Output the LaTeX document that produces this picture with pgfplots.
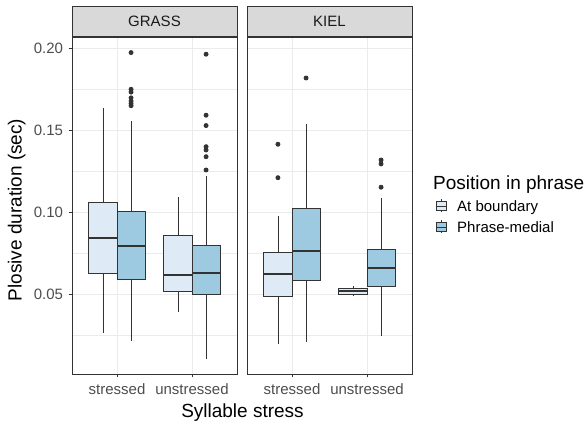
\documentclass[border=0pt]{standalone}
\usepackage{pgfplots}
\pgfplotsset{compat=1.18}
\usepgfplotslibrary{statistics}
\usepackage{fontspec}
\setmainfont{Liberation Sans}
\definecolor{gA}{HTML}{DEEBF7}
\definecolor{gB}{HTML}{9ECAE1}
\definecolor{g20}{HTML}{333333}
\definecolor{g30}{HTML}{4D4D4D}
\definecolor{g10}{HTML}{1A1A1A}
\definecolor{grd}{HTML}{EBEBEB}
\definecolor{strip}{HTML}{D9D9D9}
\pgfplotsset{
  panel/.style={
    scale only axis, width=165bp, height=337bp, anchor=south west,
    xmin=0.4, xmax=2.6, ymin=0.0016, ymax=0.2071,
    xtick={1,2}, xticklabels={stressed,unstressed},
    ytick={0.05,0.10,0.15,0.20}, minor ytick={0.025,0.075,0.125,0.175},
    xtick pos=bottom, ytick pos=left,
    grid=both,
    major grid style={draw=grd, line width=0.9bp},
    minor grid style={draw=grd, line width=0.45bp},
    tick align=outside, major tick length=3.5bp, minor tick length=0pt,
    tick style={draw=g20, line width=0.8bp},
    axis line style={draw=g20, line width=0.8bp},
    ticklabel style={font=\fontsize{15bp}{18bp}\selectfont, text=g30},
    xticklabel style={yshift=-3bp},
    yticklabel style={xshift=-2bp},
    /pgf/number format/assume math mode=true,
    title style={at={(0.5,1)}, anchor=south, yshift=-6pt, draw=g20, line width=0.8bp,
      fill=strip, minimum width=165bp, minimum height=30bp, inner sep=0pt,
      font=\fontsize{15bp}{18bp}\selectfont, text=g10},
    boxplot/draw direction=y,
    boxplot/box extend=0.375,
    boxplot/whisker extend=0,
    boxplot/every median/.style={line width=1.9bp},
  },
  bx/.style={draw=g20, line width=0.85bp, fill=#1, solid, mark=*, mark size=2bp,
    mark options={draw=g20, fill=g20}},
}
\begin{document}
\begin{tikzpicture}
\useasboundingbox (0bp,0bp) rectangle (588bp,423bp);
% ---------- GRASS ----------
\begin{axis}[panel, at={(72bp,49bp)}, title={GRASS},
  yticklabels={0.05,0.10,0.15,0.20}]
\addplot[bx=gA, boxplot prepared={draw position=0.8125,
  lower whisker=0.0268, lower quartile=0.0630, median=0.0844,
  upper quartile=0.1063, upper whisker=0.1637}] coordinates {};
\addplot[bx=gB, boxplot prepared={draw position=1.1875,
  lower whisker=0.0220, lower quartile=0.0594, median=0.0797,
  upper quartile=0.1009, upper whisker=0.1561}]
  table[row sep=\\, y index=0] {y\\ 0.1976\\ 0.1752\\ 0.1735\\ 0.1700\\ 0.1680\\ 0.1665\\ 0.1652\\};
\addplot[bx=gA, boxplot prepared={draw position=1.8125,
  lower whisker=0.0396, lower quartile=0.0521, median=0.0620,
  upper quartile=0.0864, upper whisker=0.1094}] coordinates {};
\addplot[bx=gB, boxplot prepared={draw position=2.1875,
  lower whisker=0.0108, lower quartile=0.0504, median=0.0630,
  upper quartile=0.0797, upper whisker=0.1226}]
  table[row sep=\\, y index=0] {y\\ 0.1966\\ 0.1594\\ 0.1531\\ 0.1402\\ 0.1382\\ 0.1341\\ 0.1260\\};
\end{axis}
% ---------- KIEL ----------
\begin{axis}[panel, at={(247bp,49bp)}, title={KIEL},
  yticklabels={}, ytick style={draw=none}]
\addplot[bx=gA, boxplot prepared={draw position=0.8125,
  lower whisker=0.0198, lower quartile=0.0488, median=0.0624,
  upper quartile=0.0759, upper whisker=0.0980}]
  table[row sep=\\, y index=0] {y\\ 0.1417\\ 0.1213\\};
\addplot[bx=gB, boxplot prepared={draw position=1.1875,
  lower whisker=0.0210, lower quartile=0.0584, median=0.0768,
  upper quartile=0.1023, upper whisker=0.1539}]
  table[row sep=\\, y index=0] {y\\ 0.1821\\};
\addplot[bx=gA, boxplot prepared={draw position=1.8125,
  lower whisker=0.0494, lower quartile=0.0504, median=0.0523,
  upper quartile=0.0539, upper whisker=0.0553}] coordinates {};
\addplot[bx=gB, boxplot prepared={draw position=2.1875,
  lower whisker=0.0248, lower quartile=0.0549, median=0.0665,
  upper quartile=0.0777, upper whisker=0.1091}]
  table[row sep=\\, y index=0] {y\\ 0.1321\\ 0.1297\\ 0.1155\\};
\end{axis}
% ---------- titles ----------
\begin{scope}[x=1bp,y=1bp]
\node[rotate=90, anchor=base, font=\fontsize{19bp}{22bp}\selectfont] at (21.5,213) {Plosive duration (sec)};
\node[anchor=base, font=\fontsize{19bp}{22bp}\selectfont] at (242.5,5.5) {Syllable stress};
% ---------- legend ----------
\node[anchor=base west, inner sep=0pt, font=\fontsize{19bp}{22bp}\selectfont] at (433,234) {Position in phrase};
\foreach \yc/\col/\lab in {217/gA/At boundary, 196/gB/Phrase-medial}{
  \draw[g20, line width=0.7bp] (441,\yc-6.5) -- (441,\yc+6.5);
  \draw[g20, line width=0.7bp, fill=\col] (436,\yc-4.5) rectangle (446,\yc+4.5);
  \draw[g20, line width=0.9bp] (436,\yc) -- (446,\yc);
  \node[anchor=base west, inner sep=0pt, font=\fontsize{15bp}{18bp}\selectfont] at (457,\yc-5.4) {\lab};
}
\end{scope}
\end{tikzpicture}
\end{document}
